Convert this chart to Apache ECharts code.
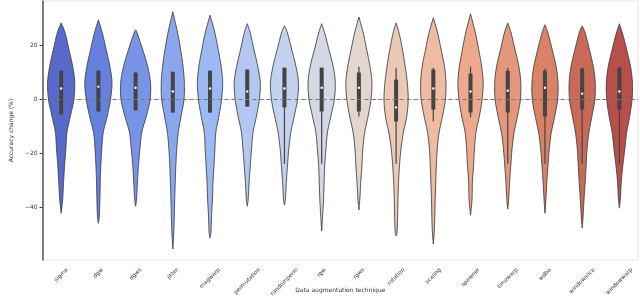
<!DOCTYPE html>
<html><head><meta charset="utf-8">
<script src="https://cdn.jsdelivr.net/npm/echarts@6/dist/echarts.min.js"></script>
<style>html,body{margin:0;padding:0;background:#fff}#c{width:640px;height:298px}</style>
</head><body><div id="c"></div>
<script>
const categories = ["sigma","dgw","dgws","jitter","magwarp","permutation","randomperm","rgw","rgws","rotation","scaling","spawner","timewarp","wdba","windowslice","windowwarp"];
const violinTop = [28.2,29.3,25.6,32.3,31.0,27.9,27.1,27.9,30.4,28.2,30.1,31.5,28.2,27.5,27.1,27.9];
const violinBottom = [-42.3,-46.0,-39.7,-55.5,-51.5,-39.7,-39.3,-48.9,-41.1,-50.7,-53.7,-43.0,-40.8,-42.3,-47.8,-40.4];
const densityLevels = [24.5,18.3,12.0,6.1,-0.2,-6.5,-12.4,-18.6,-24.9,-30.8,-37.1,-43.4,-49.3];
const densityWidth = [
 [.21,.42,.62,.73,.68,.49,.31,.25,.18,.13,.08],
 [.21,.42,.62,.73,.65,.47,.26,.18,.13,.10,.08,.05],
 [.08,.38,.65,.80,.78,.57,.33,.23,.15,.10,.05],
 [.26,.42,.55,.62,.60,.44,.29,.21,.16,.13,.10,.08,.05],
 [.26,.44,.60,.68,.62,.47,.31,.26,.21,.16,.13,.08,.05],
 [.16,.36,.57,.70,.65,.49,.31,.23,.16,.10,.05],
 [.16,.39,.62,.75,.70,.52,.34,.23,.16,.10,.05],
 [.16,.39,.62,.73,.68,.49,.31,.23,.16,.13,.10,.05],
 [.23,.42,.60,.70,.65,.49,.31,.21,.16,.10,.05],
 [.16,.34,.49,.60,.65,.57,.39,.26,.18,.13,.10,.08,.05],
 [.23,.42,.60,.68,.65,.49,.31,.21,.16,.13,.10,.08,.05],
 [.26,.44,.60,.68,.62,.47,.29,.21,.16,.10,.08],
 [.18,.39,.60,.70,.68,.52,.34,.23,.16,.10,.05],
 [.16,.39,.60,.70,.68,.52,.34,.23,.16,.10,.05],
 [.16,.39,.60,.70,.68,.52,.36,.26,.21,.16,.10,.05],
 [.16,.39,.60,.70,.68,.55,.39,.29,.18,.10,.05]
];
const q3 = [10.5,10.5,9.8,10.1,10.5,10.9,11.6,11.6,9.8,7.2,10.9,9.4,10.5,10.5,11.3,11.6];
const medians = [3.9,4.6,4.2,2.8,3.9,2.8,3.9,4.2,4.2,-3.1,3.9,2.8,3.1,4.2,2.0,2.8];
const q1 = [-5.7,-4.6,-4.2,-5.0,-5.0,-2.8,-3.1,-4.6,-4.6,-8.3,-3.9,-5.0,-5.0,-6.5,-3.9,-3.9];
const whiskerHigh = [10.5,10.5,9.8,10.1,10.5,10.9,11.6,11.6,12.0,11.6,11.6,12.0,11.6,11.3,11.6,12.0];
const whiskerLow = [-5.7,-4.6,-4.2,-5.0,-5.0,-2.8,-24,-24,-6.5,-24,-8.3,-6.8,-24,-24,-24,-24];
const colors = ["#5869cc","#6580de","#7894e6","#8aa7ee","#9db9f4","#b2c8f3","#c3d2ee","#d3d8e2","#e3d6cc","#ecc9b6","#efbba2","#eda98d","#e4977c","#d88268","#c96a58","#b94f4b"];
const yTicks = [-40,-20,0,20];
const yMin = -59.6, yMax = 36.3;
const xTitle = "Data augmentation technique";
const yTitle = "Accuracy change (%)";

const FONT = '"DejaVu Sans", sans-serif';
const LABEL_SIZE = 5.6;
const measureCtx = document.createElement('canvas').getContext('2d');
measureCtx.font = LABEL_SIZE + 'px ' + FONT;

function profile(i) {
  const pts = [[violinTop[i], 0]];
  densityLevels.forEach((lv, k) => {
    const w = densityWidth[i][k];
    if (w !== undefined && lv < violinTop[i] && lv > violinBottom[i]) pts.push([lv, w]);
  });
  pts.push([violinBottom[i], 0]);
  return pts;
}
function catmull(pts, steps) {
  const out = [];
  for (let i = 0; i < pts.length - 1; i++) {
    const p0 = pts[Math.max(0, i - 1)], p1 = pts[i], p2 = pts[i + 1], p3 = pts[Math.min(pts.length - 1, i + 2)];
    for (let s = 0; s < steps; s++) {
      const t = s / steps, t2 = t * t, t3 = t2 * t;
      const f = (a, b, c, d) => 0.5 * ((2 * b) + (-a + c) * t + (2 * a - 5 * b + 4 * c - d) * t2 + (-a + 3 * b - 3 * c + d) * t3);
      out.push([f(p0[0], p1[0], p2[0], p3[0]), Math.max(0, f(p0[1], p1[1], p2[1], p3[1]))]);
    }
  }
  out.push(pts[pts.length - 1]);
  return out;
}

function renderViolin(params, api) {
  const i = api.value(0);
  const cx = api.coord([i, 0])[0];
  const band = api.size([1, 0])[0];
  const prof = profile(i).map(p => [api.coord([i, p[0]])[1], p[1] * band / 2]);
  const sm = catmull(prof, 10);
  const right = sm.map(p => [cx + p[1], p[0]]);
  const left = sm.slice().reverse().map(p => [cx - p[1], p[0]]);
  const yq3 = api.coord([i, q3[i]])[1], yq1 = api.coord([i, q1[i]])[1];
  const ywh = api.coord([i, whiskerHigh[i]])[1], ywl = api.coord([i, whiskerLow[i]])[1];
  const ym = api.coord([i, medians[i]])[1];
  return {
    type: 'group',
    children: [
      { type: 'polygon', shape: { points: right.concat(left) },
        style: { fill: colors[i], stroke: '#3f3f3f', lineWidth: 0.9 } },
      { type: 'line', shape: { x1: cx, y1: ywh, x2: cx, y2: ywl },
        style: { stroke: '#444', lineWidth: 1.2 } },
      { type: 'rect', shape: { x: cx - 2, y: yq3, width: 4, height: yq1 - yq3 },
        style: { fill: '#444' } },
      { type: 'circle', shape: { cx: cx, cy: ym, r: 1.2 },
        style: { fill: '#fff' } }
    ]
  };
}

function renderLabel(params, api) {
  const i = api.value(0);
  const cx = api.coord([i, 0])[0];
  const yb = api.coord([i, yMin])[1];
  const text = categories[i];
  const L = measureCtx.measureText(text).width;
  const h = LABEL_SIZE;
  const cy = yb + 7 + (L + h) * 0.7071 / 2;
  return {
    type: 'text', x: cx, y: cy, rotation: Math.PI / 4,
    style: { text: text, align: 'center', verticalAlign: 'middle',
      fontSize: LABEL_SIZE, fontFamily: FONT, fill: '#3a3a3a' }
  };
}

const chart = echarts.init(document.getElementById('c'), null, { renderer: 'canvas' });
chart.setOption({
  animation: false,
  backgroundColor: '#fff',
  grid: { left: 23, right: 2, top: 1, bottom: 37, show: true, borderColor: '#e8e8e8', borderWidth: 1 },
  xAxis: {
    type: 'category', data: categories, boundaryGap: true,
    name: xTitle, nameLocation: 'middle', nameGap: 27,
    nameTextStyle: { fontSize: 6, fontFamily: FONT, color: '#333' },
    axisLine: { show: true, lineStyle: { color: '#dcdcdc', width: 1 } },
    axisTick: { show: true, alignWithLabel: true, length: 2, lineStyle: { color: '#555' } },
    axisLabel: { show: false },
    splitLine: { show: false }
  },
  yAxis: {
    type: 'value', min: yMin, max: yMax,
    name: yTitle, nameLocation: 'middle', nameGap: 18,
    nameTextStyle: { fontSize: 6, fontFamily: FONT, color: '#333' },
    axisLine: { show: true, lineStyle: { color: '#555', width: 1.5 } },
    axisTick: { show: true, length: 3, customValues: yTicks, lineStyle: { color: '#333' } },
    axisLabel: { customValues: yTicks, fontSize: 6, fontFamily: FONT, color: '#333', margin: 5,
      formatter: v => (v < 0 ? '\u2212' + Math.abs(v) : String(v)) },
    splitLine: { show: false }
  },
  series: [
    {
      type: 'custom', renderItem: renderViolin, data: categories.map((c, i) => [i]),
      z: 2,
      markLine: {
        silent: true, symbol: 'none', z: 10,
        label: { show: false },
        lineStyle: { color: '#777', type: [4, 3], width: 1 },
        data: [{ yAxis: 0 }]
      }
    },
    {
      type: 'custom', renderItem: renderLabel, data: categories.map((c, i) => [i]),
      clip: false, silent: true, z: 3
    }
  ]
});
</script></body></html>
